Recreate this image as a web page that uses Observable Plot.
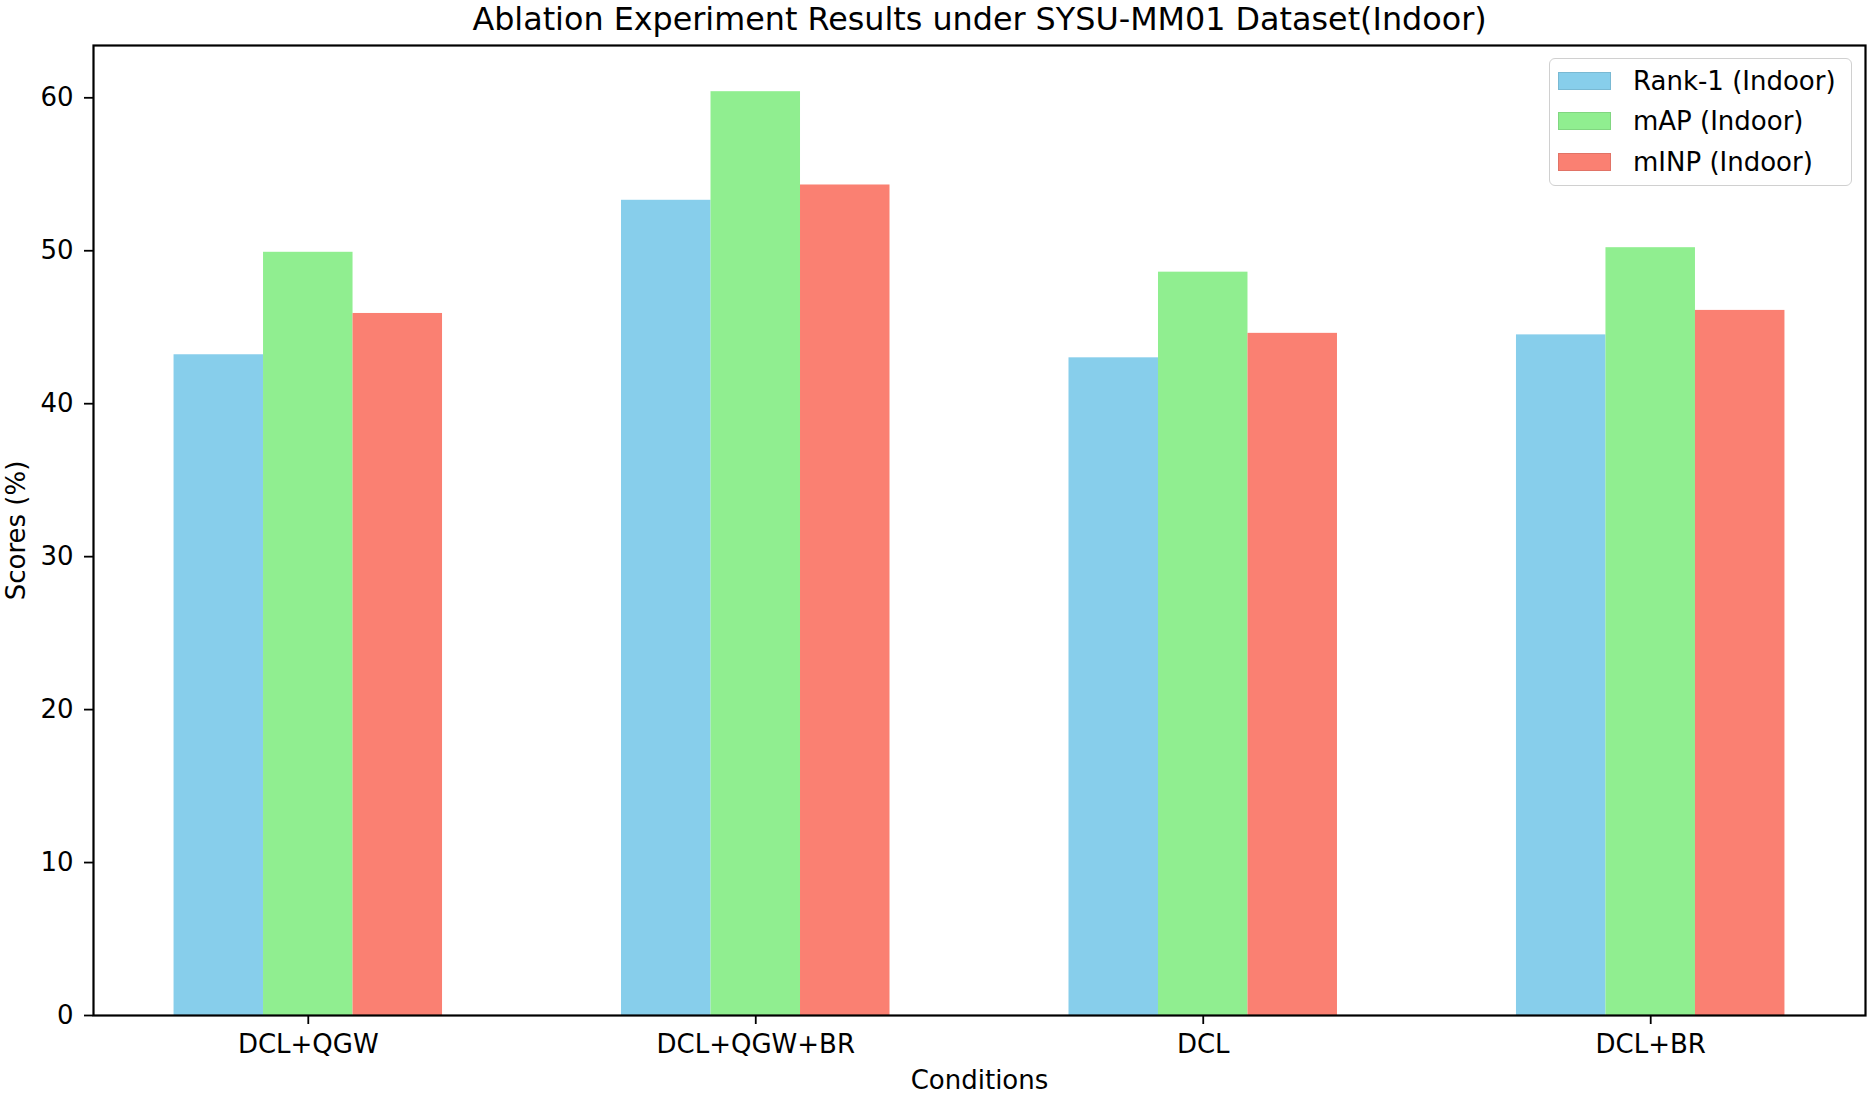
<!DOCTYPE html>
<html>
<head>
<meta charset="utf-8">
<script src="https://cdn.jsdelivr.net/npm/d3@7"></script>
<script src="https://cdn.jsdelivr.net/npm/@observablehq/plot@0.6"></script>
<style>
  html, body { margin: 0; padding: 0; background: #fff; }
  #wrap { position: relative; width: 1872px; height: 1094px; overflow: hidden; font-family: "DejaVu Sans", sans-serif; }
  #legend { position: absolute; left: 1549px; top: 58px; width: 301px; height: 126px;
    border: 1.5px solid #d0d0d0; border-radius: 6px; background: rgba(255,255,255,0.8); box-sizing: content-box; }
  .item { position: absolute; left: 8px; height: 20px; }
  .sw { position: absolute; left: 0; top: 0; width: 53px; height: 18px; box-sizing: border-box; }
  .lab { position: absolute; left: 75px; top: -7px; font-size: 26px; line-height: 32px; white-space: nowrap; color: #000; }
</style>
</head>
<body>
<div id="wrap"></div>
<script>
const categories = ["DCL+QGW", "DCL+QGW+BR", "DCL", "DCL+BR"];
const rank1 = [43.2, 53.3, 43.0, 44.5];
const mAP   = [49.9, 60.4, 48.6, 50.2];
const mINP  = [45.9, 54.3, 44.6, 46.1];
const seriesNames = ["Rank-1 (Indoor)", "mAP (Indoor)", "mINP (Indoor)"];
const seriesColors = ["#87CEEB", "#90EE90", "#FA8072"];
const yTicks = [0, 10, 20, 30, 40, 50, 60];

const seriesValues = [rank1, mAP, mINP];
const barWidth = 0.2;
const data = [];
categories.forEach((c, i) => {
  seriesValues.forEach((vals, s) => {
    data.push({i, category: c, series: seriesNames[s], s, value: vals[i]});
  });
});

const chart = Plot.plot({
  width: 1872,
  height: 1094,
  marginLeft: 93,
  marginRight: 7,
  marginTop: 45,
  marginBottom: 79,
  style: {fontFamily: "DejaVu Sans, sans-serif", fontSize: "26px", background: "#fff", color: "#000"},
  x: {type: "linear", domain: [-0.48, 3.48]},
  y: {domain: [0, 63.42]},
  color: {domain: seriesNames, range: seriesColors},
  marks: [
    Plot.rectY(data, {
      x1: d => d.i + (d.s - 1) * barWidth - barWidth / 2,
      x2: d => d.i + (d.s - 1) * barWidth + barWidth / 2,
      y1: 0,
      y2: "value",
      fill: "series",
      inset: 0
    }),
    Plot.axisY({ticks: yTicks, tickSize: 9, tickPadding: 11, tickFormat: d => String(d), label: null, fontSize: 26, strokeWidth: 1.8}),
    Plot.axisX({ticks: d3.range(categories.length), tickSize: 9, tickPadding: 10, tickFormat: d => categories[d], label: null, fontSize: 26, strokeWidth: 1.8}),
    Plot.frame({stroke: "#000", strokeWidth: 2.2}),
    Plot.text(["Ablation Experiment Results under SYSU-MM01 Dataset(Indoor)"], {
      frameAnchor: "top", text: d => d, dy: -16, lineAnchor: "bottom", fontSize: 31.8
    }),
    Plot.text(["Conditions"], {
      frameAnchor: "bottom", text: d => d, dy: 55, lineAnchor: "top", fontSize: 26
    }),
    Plot.text(["Scores (%)"], {
      frameAnchor: "left", text: d => d, dx: -77, rotate: -90, textAnchor: "middle", lineAnchor: "middle", fontSize: 26
    })
  ]
});

const wrap = document.getElementById("wrap");
wrap.appendChild(chart);

const legend = document.createElement("div");
legend.id = "legend";
seriesNames.forEach((name, k) => {
  const item = document.createElement("div");
  item.className = "item";
  item.style.top = (13 + k * 40.3) + "px";
  const sw = document.createElement("div");
  sw.className = "sw";
  sw.style.background = seriesColors[k];
  sw.style.border = "1px solid " + d3.color(seriesColors[k]).darker(0.3).formatHex();
  const lab = document.createElement("div");
  lab.className = "lab";
  lab.textContent = name;
  item.appendChild(sw);
  item.appendChild(lab);
  legend.appendChild(item);
});
wrap.appendChild(legend);
</script>
</body>
</html>
